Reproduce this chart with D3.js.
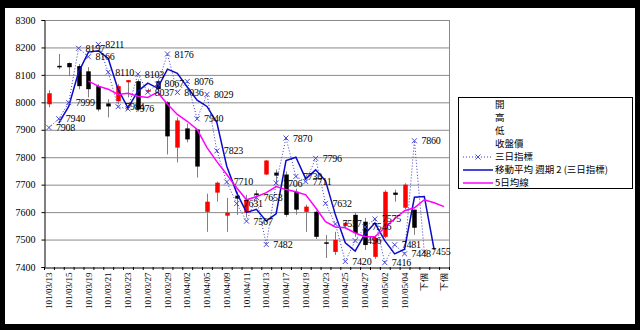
<!DOCTYPE html>
<html><head><meta charset="utf-8">
<script src="https://cdn.jsdelivr.net/npm/d3@7"></script>
<style>body{margin:0;background:#000}svg{display:block}</style>
</head><body><svg id="c" width="640" height="330"></svg>
<script>
const categories = ["101/03/13","101/03/14","101/03/15","101/03/16","101/03/19","101/03/20","101/03/21","101/03/22","101/03/23","101/03/26",
 "101/03/27","101/03/28","101/03/29","101/03/30","101/04/02","101/04/03","101/04/05","101/04/06","101/04/09","101/04/10",
 "101/04/11","101/04/12","101/04/13","101/04/16","101/04/17","101/04/18","101/04/19","101/04/20","101/04/23","101/04/24",
 "101/04/25","101/04/26","101/04/27","101/04/30","101/05/02","101/05/03","101/05/04","101/05/07","下個","下個","下個"];
const openV  = [7993,8133,8143,8132,8113,8059,7996,8004,8073,8077,8040,8077,8000,7835,7905,7901,7601,7671,7587,7660,7598,7668,7737,7744,7737,7674,7601,7601,7490,7455,7550,7590,7565,7437,7510,7671,7616,7609];
const highV  = [8044,8176,8145,8140,8128,8066,8011,8066,8081,8084,8050,8084,8004,7945,7923,7901,7667,7711,7652,7674,7663,7680,7790,7755,7748,7685,7627,7605,7517,7528,7565,7598,7579,7510,7680,7682,7705,7609];
const lowV   = [7982,8121,8095,8048,8018,7967,7945,7993,8018,7967,8035,8040,7810,7781,7854,7726,7528,7638,7528,7590,7580,7650,7735,7700,7583,7590,7528,7502,7433,7444,7545,7510,7462,7430,7505,7638,7610,7517];
const closeV = [8033,8129,8128,8059,8048,7974,7985,8059,8081,7974,8044,8048,7876,7934,7865,7766,7638,7707,7598,7649,7645,7664,7788,7733,7590,7609,7620,7510,7486,7499,7561,7524,7480,7506,7674,7663,7700,7543];
const threeDay = [7908,7940,7999,8197,8166,8211,8110,7984,7976,8103,8037,8067,8176,8036,8076,7940,8029,7823,7710,7631,7567,7653,7482,7706,7870,7730,7711,7796,7632,7557,7420,7496,7546,7575,7416,7481,7448,7860,7455];
const ma2Start = 1;
const ma2 = [7924,7985,8110,8183,8188,8160,8047,7980,8040,8070,8052,8121,8106,8056,8008,7985,7926,7767,7671,7599,7610,7568,7594,7788,7800,7721,7754,7714,7590,7488,7458,7521,7560,7496,7448,7465,7654,7657,7462];
const ma5Start = 4;
const ma5 = [8077,8059,8048,8029,8033,8022,8018,8037,7993,7956,7931,7901,7835,7784,7737,7689,7645,7656,7671,7693,7682,7674,7663,7616,7565,7546,7543,7524,7510,7510,7543,7576,7605,7616,7645,7634,7620];
const yTicks = [7400,7500,7600,7700,7800,7900,8000,8100,8200,8300];
const legendLabels = ["開","高","低","收盤價","三日指標","移動平均 週期 2 (三日指標)","5日均線"];

const svg = d3.select("#c");
svg.append("rect").attr("width",640).attr("height",330).attr("fill","#000");
svg.append("rect").attr("x",5).attr("y",8).attr("width",630).attr("height",316).attr("fill","#fff");

const L=44, R=449, T=20, B=267;
const x = d3.scaleBand().domain(d3.range(categories.length)).range([L,R]).padding(0);
const cx = i => x(i) + x.bandwidth()/2;
const y = d3.scaleLinear().domain([7400,8300]).range([B,T]);
const numFont = "Liberation Serif";

// gridlines
svg.append("g").selectAll("line").data(yTicks.slice(1)).join("line")
  .attr("x1",L).attr("x2",R).attr("y1",d=>y(d)+0.5).attr("y2",d=>y(d)+0.5)
  .attr("stroke","#8a8a8a").attr("stroke-width",1);
svg.append("line").attr("x1",R+0.5).attr("x2",R+0.5).attr("y1",T).attr("y2",B).attr("stroke","#8a8a8a");

// y axis
const ya = svg.append("g").attr("transform",`translate(${L+0.5},0)`)
  .call(d3.axisLeft(y).tickValues(yTicks).tickSize(3).tickPadding(6).tickFormat(d3.format("d")));
ya.select(".domain").attr("stroke","#000");
ya.selectAll("text").attr("font-family",numFont).attr("font-size",10).attr("fill","#000");

// x axis
const xa = svg.append("g").attr("transform",`translate(0,${B+0.5})`)
  .call(d3.axisBottom(x).tickValues(d3.range(0,categories.length,2)).tickSize(0).tickFormat(i=>categories[i]));
xa.select(".domain").attr("stroke","#000");
xa.selectAll("text").attr("font-family",numFont).attr("font-size",9).attr("fill","#000")
  .attr("transform","rotate(-90)").attr("text-anchor","end").attr("x",-5).attr("y",0).attr("dy","0.35em");
svg.append("g").selectAll("line").data(d3.range(categories.length+1)).join("line")
  .attr("x1",i=>(i<categories.length?x(i):R)+0.5).attr("x2",i=>(i<categories.length?x(i):R)+0.5)
  .attr("y1",B).attr("y2",B+3).attr("stroke","#000");

// candles
const idx = d3.range(openV.length);
const bw = 4.5;
const cg = svg.append("g");
cg.selectAll("line").data(idx).join("line")
  .attr("x1",i=>Math.round(cx(i))+0.5).attr("x2",i=>Math.round(cx(i))+0.5)
  .attr("y1",i=>y(highV[i])).attr("y2",i=>y(lowV[i])).attr("stroke","#808080").attr("stroke-width",1);
cg.selectAll("rect").data(idx).join("rect")
  .attr("x",i=>Math.round(cx(i))+0.5-bw/2).attr("width",bw)
  .attr("y",i=>y(Math.max(openV[i],closeV[i])))
  .attr("height",i=>Math.max(1.5,Math.abs(y(openV[i])-y(closeV[i]))))
  .attr("fill",i=>closeV[i]>=openV[i]?"#ff0000":"#000");

// three-day indicator dotted line
const tdIdx = d3.range(threeDay.length);
const line = d3.line().x(d=>cx(d[0])).y(d=>y(d[1]));
svg.append("path").datum(tdIdx.map(i=>[i,threeDay[i]])).attr("d",line)
  .attr("fill","none").attr("stroke","#3a3ad0").attr("stroke-width",1).attr("stroke-dasharray","1,2");
// MA2 line
svg.append("path").datum(ma2.map((v,k)=>[k+ma2Start,v])).attr("d",line)
  .attr("fill","none").attr("stroke","#0a0ac8").attr("stroke-width",1.5);
// MA5 line
svg.append("path").datum(ma5.map((v,k)=>[k+ma5Start,v])).attr("d",line)
  .attr("fill","none").attr("stroke","#ff00ff").attr("stroke-width",1.5);
// markers
const mk = svg.append("g").selectAll("g").data(tdIdx).join("g")
  .attr("transform",i=>`translate(${cx(i)},${y(threeDay[i])})`);
mk.append("path").attr("d","M-2.5,-2.5L2.5,2.5M-2.5,2.5L2.5,-2.5").attr("stroke","#4848d8").attr("stroke-width",1);
// labels
svg.append("g").selectAll("text").data(tdIdx).join("text")
  .attr("x",i=>cx(i)+7).attr("y",i=>y(threeDay[i])).attr("dy","0.35em")
  .attr("font-family",numFont).attr("font-size",10).attr("letter-spacing",-0.2).attr("fill","#000")
  .text(i=>threeDay[i]);

// legend
const lg = svg.append("g");
lg.append("rect").attr("x",458.5).attr("y",97.5).attr("width",174).attr("height",91)
  .attr("fill","#fff").attr("stroke","#000");
const ly = d => 105 + d*13;
lg.selectAll("text").data(legendLabels).join("text")
  .attr("x",495).attr("y",(d,k)=>ly(k)).attr("dy","0.35em")
  .attr("font-family","Noto Sans CJK TC").attr("font-size",9.5).attr("fill","#000").text(d=>d);
lg.append("line").attr("x1",463).attr("x2",493).attr("y1",ly(4)).attr("y2",ly(4))
  .attr("stroke","#3a3ad0").attr("stroke-dasharray","1,2");
lg.append("path").attr("transform",`translate(478,${ly(4)})`).attr("d","M-2.5,-2.5L2.5,2.5M-2.5,2.5L2.5,-2.5").attr("stroke","#4848d8");
lg.append("line").attr("x1",463).attr("x2",493).attr("y1",ly(5)).attr("y2",ly(5)).attr("stroke","#0a0ac8").attr("stroke-width",1.5);
lg.append("line").attr("x1",463).attr("x2",493).attr("y1",ly(6)).attr("y2",ly(6)).attr("stroke","#ff00ff").attr("stroke-width",1.5);
</script></body></html>
